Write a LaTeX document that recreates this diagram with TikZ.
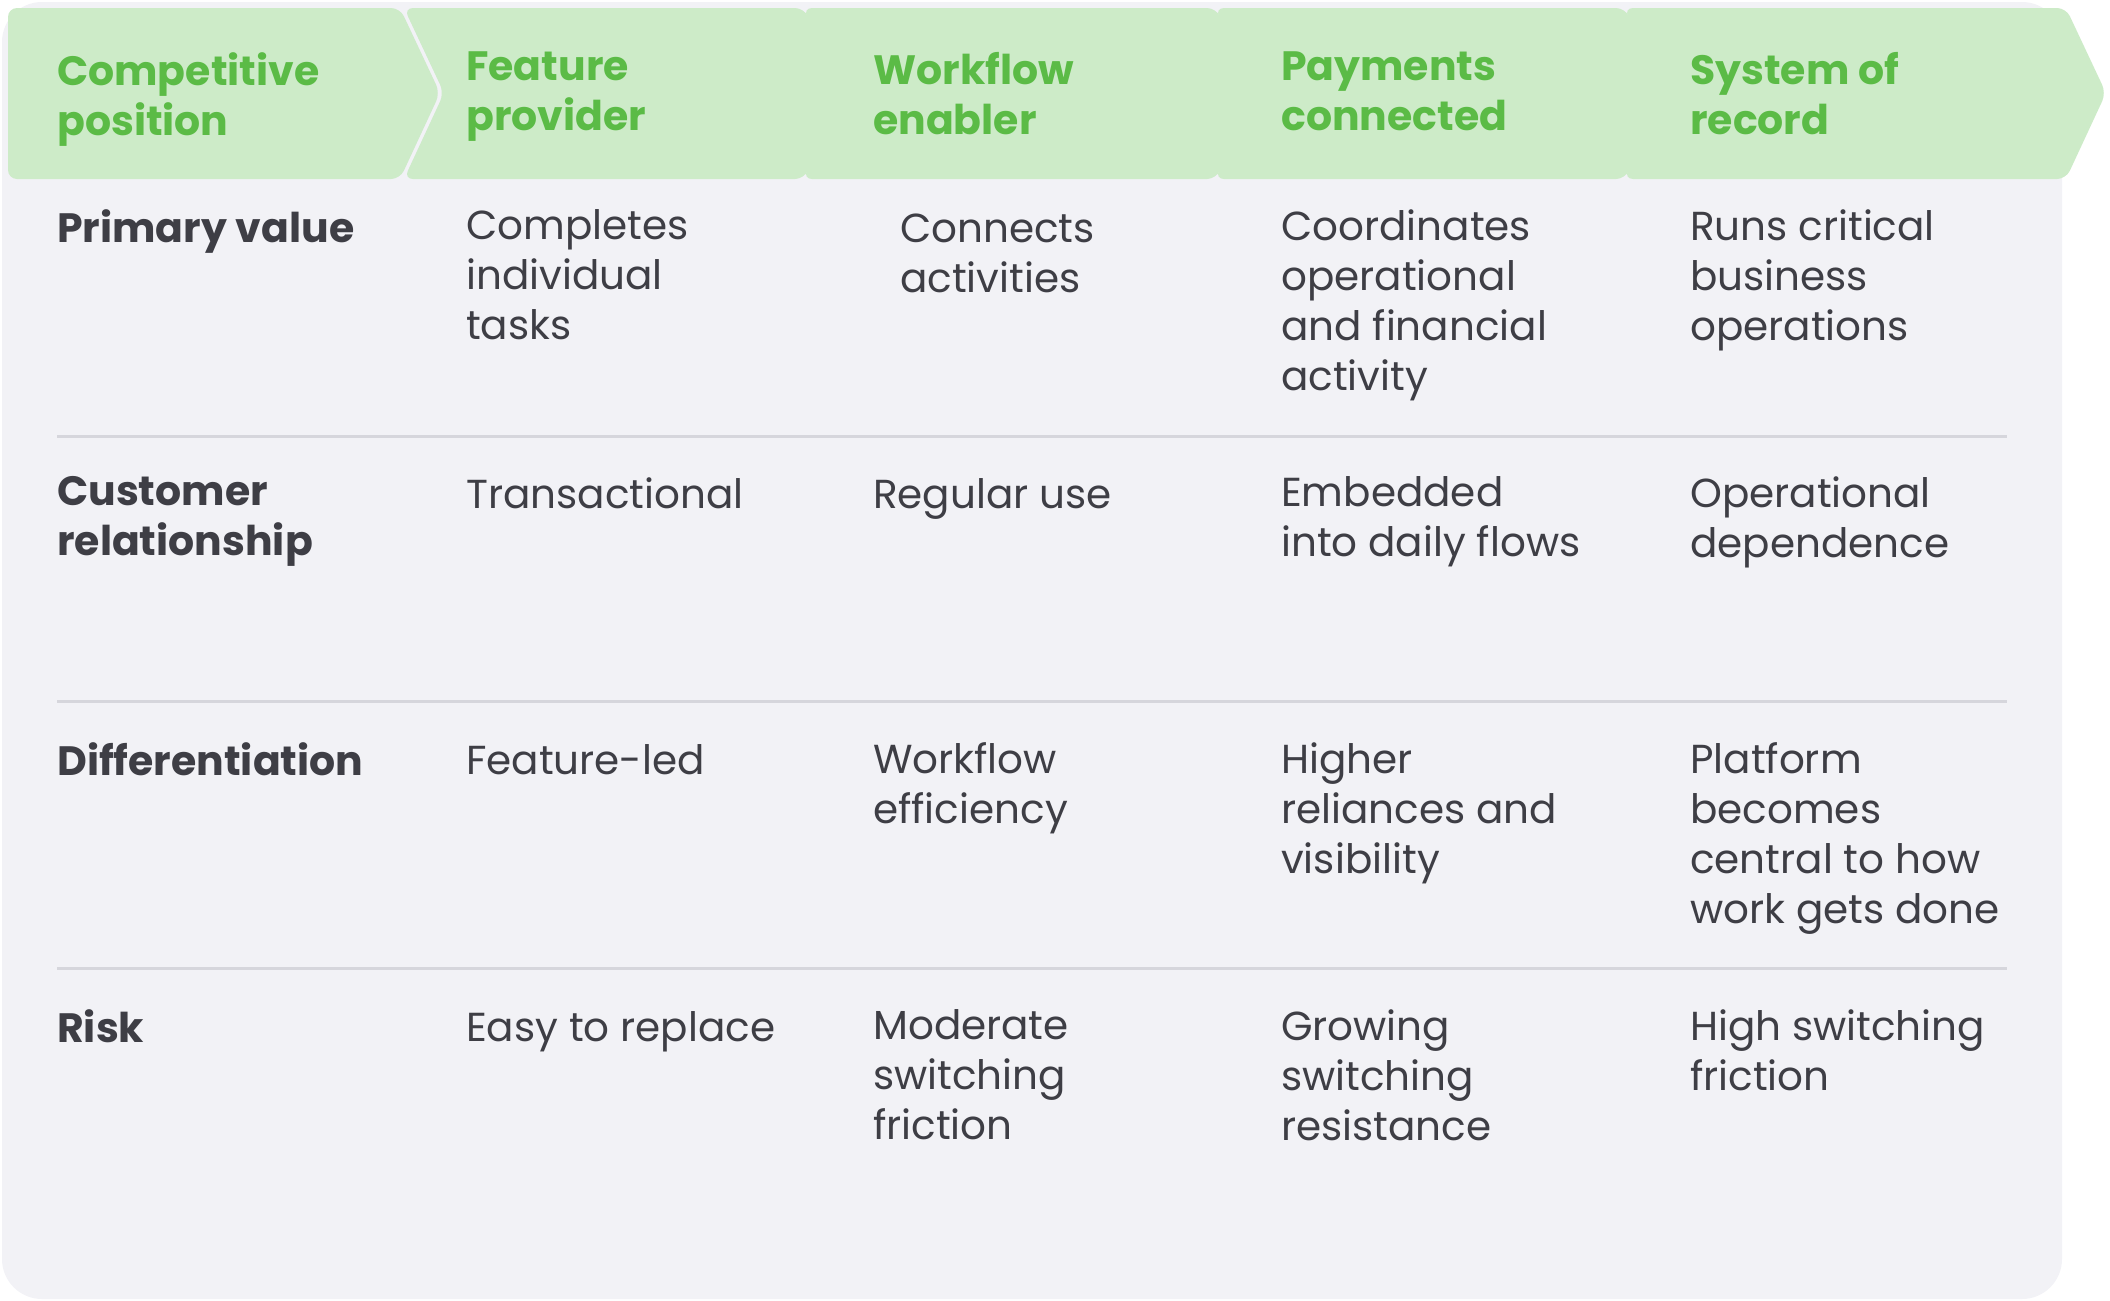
\documentclass[tikz,border=0pt]{standalone}
\usepackage{fontspec}
\setmainfont{Poppins}
\usetikzlibrary{positioning}
\definecolor{panelgray}{HTML}{F2F2F6}
\definecolor{rulegray}{HTML}{D6D6DC}
\definecolor{headgreen}{HTML}{CDEBC8}
\definecolor{textgreen}{HTML}{5BBB46}
\definecolor{textdark}{HTML}{3E3E45}
\tikzset{
  txt/.style = {anchor=north west, align=left, inner sep=0pt, execute at begin node={\rule{0pt}{32pt}}},
  head/.style = {txt, text=textgreen, font={\fontsize{41}{50}\selectfont\bfseries}},
  rowlab/.style = {txt, text=textdark, font={\fontsize{41}{50}\selectfont\bfseries}},
  cell/.style = {txt, text=textdark, font={\fontsize{40.5}{50}\selectfont}},
  chev/.style = {fill=headgreen, rounded corners=9pt},
  sep/.style = {draw=rulegray, line width=3pt},
}
\begin{document}
\begin{tikzpicture}[x=1pt, y=-1pt]
    \useasboundingbox (0,0) rectangle (2110,1301);
    \fill[panelgray, rounded corners=40pt] (2,2) rectangle (2062,1299);
    % header arrows
    \fill[chev] (8,8) -- (400,8) -- (440,93) -- (400,179) -- (8,179) -- cycle;
    \foreach \xa/\xb in {404/804, 803/1216, 1215/1625, 1624/2066}
        \fill[chev] (\xa,8) -- (\xb,8) -- (\xb+40,93) -- (\xb,179) -- (\xa,179) -- (\xa+40,93) -- cycle;
    \node[head] (hpos) at (57,52) {Competitive\\position};
    \node[head] (hfeat) at (466,52) {Feature\\provider};
    \node[head] (hwork) at (873,52) {Workflow\\enabler};
    \node[head] (hpay) at (1281,52) {Payments\\connected};
    \node[head] (hsys) at (1690,52) {System of\\record};
    % rules between rows
    \coordinate (r1a) at (57,436); \coordinate (r1b) at (2007,436);
    \coordinate (r2a) at (57,701); \coordinate (r2b) at (2007,701);
    \coordinate (r3a) at (57,968); \coordinate (r3b) at (2007,968);
    \draw[sep] (r1a) -- (r1b);
    \draw[sep] (r2a) -- (r2b);
    \draw[sep] (r3a) -- (r3b);
    % primary value
    \node[rowlab] (lprim) at (57,209) {Primary value};
    \node[cell] (cprim1) at (466,209) {Completes\\individual\\tasks};
    \node[cell] (cprim2) at (900,214) {Connects\\activities};
    \node[cell] (cprim3) at (1281,209) {Coordinates\\operational\\and financial\\activity};
    \node[cell] (cprim4) at (1690,209) {Runs critical\\business\\operations};
    % customer relationship
    \node[rowlab] (lcust) at (57,476) {Customer\\relationship};
    \node[cell] (ccust1) at (466,476) {Transactional};
    \node[cell] (ccust2) at (873,476) {Regular use};
    \node[cell] (ccust3) at (1281,476) {Embedded\\into daily flows};
    \node[cell] (ccust4) at (1690,476) {Operational\\dependence};
    % differentiation
    \node[rowlab] (ldiff) at (57,742) {Differentiation};
    \node[cell] (cdiff1) at (466,742) {Feature-led};
    \node[cell] (cdiff2) at (873,742) {Workflow\\efficiency};
    \node[cell] (cdiff3) at (1281,742) {Higher\\reliances and\\visibility};
    \node[cell] (cdiff4) at (1690,742) {Platform\\becomes\\central to how\\work gets done};
    % risk
    \node[rowlab] (lrisk) at (57,1009) {Risk};
    \node[cell] (crisk1) at (466,1009) {Easy to replace};
    \node[cell] (crisk2) at (873,1009) {Moderate\\switching\\friction};
    \node[cell] (crisk3) at (1281,1009) {Growing\\switching\\resistance};
    \node[cell] (crisk4) at (1690,1009) {High switching\\friction};
\end{tikzpicture}
\end{document}
